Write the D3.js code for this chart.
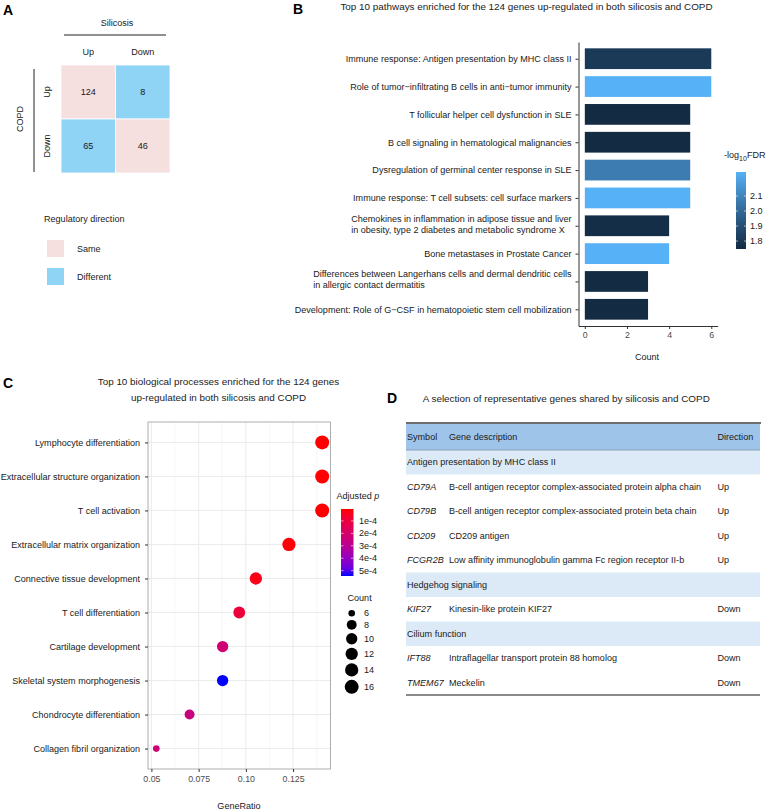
<!DOCTYPE html>
<html lang="en">
<head>
<meta charset="utf-8">
<style>
  body { margin: 0; background: white; }
  svg { font-family: 'Liberation Sans', Arial, sans-serif; background: white; }
  .tag { font-weight: bold; font-size: 14px; fill: black; }
  .lab { font-size: 9.05px; fill: #1a1a1a; }
  .title { font-size: 9.9px; fill: #1a1a1a; }
  .axis path, .axis line { stroke: #333; }
  .axis text { fill: #4d4d4d; font-size: 8.8px; font-family: 'Liberation Sans', Arial, sans-serif; }
  .ylab text { fill: #1a1a1a; font-size: 9.05px; }
</style>
</head>
<body>
<svg id="fig" width="770" height="811"></svg>
<script src="https://d3js.org/d3.v7.min.js"></script>
<script>
// ---------- panel A: overlap of regulated genes
const silicosisDirs = ["Up", "Down"]
const copdDirs = ["Up", "Down"]
const overlapCounts = [[124, 8], [65, 46]]   // rows = COPD, cols = silicosis
const legendItems = ["Same", "Different"]

// ---------- panel B: pathways
const pathwayNames = [
  "Immune response: Antigen presentation by MHC class II",
  "Role of tumor\u2212infiltrating B cells in anti\u2212tumor immunity",
  "T follicular helper cell dysfunction in SLE",
  "B cell signaling in hematological malignancies",
  "Dysregulation of germinal center response in SLE",
  "Immune response: T cell subsets: cell surface markers",
  "Chemokines in inflammation in adipose tissue and liver\nin obesity, type 2 diabetes and metabolic syndrome X",
  "Bone metastases in Prostate Cancer",
  "Differences between Langerhans cells and dermal dendritic cells\nin allergic contact dermatitis",
  "Development: Role of G\u2212CSF in hematopoietic stem cell mobilization"
]
const pathwayCounts = [6, 6, 5, 5, 5, 5, 4, 4, 3, 3]
const pathwayLogFDR = [1.81, 2.26, 1.75, 1.75, 2.07, 2.26, 1.76, 2.26, 1.75, 1.747]
const countTicks = [0, 2, 4, 6]
const fdrTicks = [1.8, 1.9, 2.0, 2.1]

// ---------- panel C: biological processes
const processNames = [
  "Lymphocyte differentiation",
  "Extracellular structure organization",
  "T cell activation",
  "Extracellular matrix organization",
  "Connective tissue development",
  "T cell differentiation",
  "Cartilage development",
  "Skeletal system morphogenesis",
  "Chondrocyte differentiation",
  "Collagen fibril organization"
]
const processGeneRatio = [0.1404, 0.1404, 0.1404, 0.1228, 0.1053, 0.0965, 0.0877, 0.0877, 0.0702, 0.0526]
const processCount = [16, 16, 16, 14, 12, 11, 10, 10, 8, 6]
const processPadj = [4e-6, 4e-6, 4e-6, 1e-5, 3e-5, 9e-5, 2.2e-4, 5.43e-4, 2.5e-4, 2.3e-4]
const ratioTicks = [0.05, 0.075, 0.1, 0.125]
const ratioTickLabels = ["0.05", "0.075", "0.10", "0.125"]
const padjTicks = [1e-4, 2e-4, 3e-4, 4e-4, 5e-4]
const padjTickLabels = ["1e-4", "2e-4", "3e-4", "4e-4", "5e-4"]
const countLegend = [6, 8, 10, 12, 14, 16]

// ---------- panel D: table
const tableHeader = ["Symbol", "Gene description", "Direction"]
const geneGroups = ["Antigen presentation by MHC class II", "Hedgehog signaling", "Cilium function"]
const geneSymbols = ["CD79A", "CD79B", "CD209", "FCGR2B", "KIF27", "IFT88", "TMEM67"]
const geneDescriptions = [
  "B-cell antigen receptor complex-associated protein alpha chain",
  "B-cell antigen receptor complex-associated protein beta chain",
  "CD209 antigen",
  "Low affinity immunoglobulin gamma Fc region receptor II-b",
  "Kinesin-like protein KIF27",
  "Intraflagellar transport protein 88 homolog",
  "Meckelin"
]
const geneDirections = ["Up", "Up", "Up", "Up", "Down", "Down", "Down"]
const geneGroupIndex = [0, 0, 0, 0, 1, 2, 2]

const svg = d3.select("#fig")
const samePink = "#f6dfdf", diffBlue = "#8fd4f5"

// ================= A =================
const gA = svg.append("g")
gA.append("text").attr("class", "tag").attr("x", 3).attr("y", 15).text("A")

const xA = d3.scaleBand().domain(silicosisDirs).range([61, 170])
const yA = d3.scaleBand().domain(copdDirs).range([65, 173])

const cells = []
copdDirs.forEach((r, i) => silicosisDirs.forEach((c, j) => cells.push({ r, c, v: overlapCounts[i][j] })))

gA.selectAll("rect.cell").data(cells).join("rect")
  .attr("class", "cell")
  .attr("x", d => xA(d.c)).attr("y", d => yA(d.r))
  .attr("width", xA.bandwidth()).attr("height", yA.bandwidth())
  .attr("fill", d => d.r === d.c ? samePink : diffBlue)
  .attr("stroke", "white").attr("stroke-width", 0.8)

gA.selectAll("text.num").data(cells).join("text")
  .attr("class", "lab num")
  .attr("x", d => xA(d.c) + xA.bandwidth() / 2)
  .attr("y", d => yA(d.r) + yA.bandwidth() / 2 + 3.2)
  .attr("text-anchor", "middle").text(d => d.v)

gA.selectAll("text.col").data(silicosisDirs).join("text")
  .attr("class", "lab col")
  .attr("x", d => xA(d) + xA.bandwidth() / 2).attr("y", 55)
  .attr("text-anchor", "middle").text(d => d)

gA.selectAll("text.row").data(copdDirs).join("text")
  .attr("class", "lab row")
  .attr("transform", d => `translate(50,${yA(d) + yA.bandwidth() / 2}) rotate(-90)`)
  .attr("text-anchor", "middle").text(d => d)

gA.append("text").attr("class", "lab").attr("x", 117).attr("y", 26).attr("text-anchor", "middle").text("Silicosis")
gA.append("line").attr("x1", 64).attr("x2", 166).attr("y1", 35).attr("y2", 35).attr("stroke", "#222").attr("stroke-width", 1)
gA.append("text").attr("class", "lab").attr("transform", "translate(23,119) rotate(-90)").attr("text-anchor", "middle").text("COPD")
gA.append("line").attr("x1", 34).attr("x2", 34).attr("y1", 69).attr("y2", 172).attr("stroke", "#222").attr("stroke-width", 1)

gA.append("text").attr("class", "lab").attr("x", 44).attr("y", 222).text("Regulatory direction")
const legA = gA.selectAll("g.leg").data(legendItems).join("g")
  .attr("transform", (d, i) => `translate(47,${240 + i * 28})`)
legA.append("rect").attr("width", 17).attr("height", 17).attr("fill", (d, i) => i === 0 ? samePink : diffBlue)
legA.append("text").attr("class", "lab").attr("x", 30).attr("y", 12).text(d => d)

// ================= B =================
const gB = svg.append("g")
gB.append("text").attr("class", "tag").attr("x", 293).attr("y", 14).text("B")
gB.append("text").attr("class", "title").attr("x", 526.5).attr("y", 10).attr("text-anchor", "middle")
  .text("Top 10 pathways enriched for the 124 genes up-regulated in both silicosis and COPD")

const xB = d3.scaleLinear().domain([-0.3, 6.3]).range([578.5, 717.6])
const yB = d3.scalePoint().domain(pathwayNames).range([42, 326]).padding(0.6)
const barH = yB.step() * 0.745
const fdrExtent = d3.extent(pathwayLogFDR)
const colB = d3.scaleLinear().domain(fdrExtent).range(["#132B43", "#56B1F7"]).interpolate(d3.interpolateLab)

gB.selectAll("rect.bar").data(pathwayNames).join("rect")
  .attr("class", "bar")
  .attr("x", xB(0)).attr("y", d => yB(d) - barH / 2)
  .attr("width", (d, i) => xB(pathwayCounts[i]) - xB(0)).attr("height", barH)
  .attr("fill", (d, i) => colB(pathwayLogFDR[i]))

const axBx = gB.append("g").attr("class", "axis").attr("transform", "translate(0,326)")
  .call(d3.axisBottom(xB).tickValues(countTicks).tickFormat(d3.format("d")).tickSize(3).tickPadding(3).tickSizeOuter(0))
const axBy = gB.append("g").attr("class", "axis ylab").attr("transform", "translate(578.5,0)")
  .call(d3.axisLeft(yB).tickSize(3).tickPadding(4).tickSizeOuter(0))

// multi-line labels: lines left-justified inside a right-aligned block
axBy.selectAll(".tick text").each(function (d) {
  const t = d3.select(this)
  const lines = d.split("\n")
  if (lines.length < 2) return
  t.text(null)
  const spans = lines.map((ln, k) => t.append("tspan").attr("x", -7).attr("dy", k === 0 ? "-0.5em" : "1.22em").text(ln))
  const w = d3.max(spans, s => s.node().getComputedTextLength())
  t.attr("text-anchor", "start").attr("dy", null)
  spans.forEach(s => s.attr("x", -7 - w))
})

gB.append("text").attr("class", "lab").attr("x", 647).attr("y", 360).attr("text-anchor", "middle").text("Count")

// colour bar
const cbB = { x: 736, y0: 172, y1: 249, w: 10 }
const yCbB = d3.scaleLinear().domain(fdrExtent).range([cbB.y1, cbB.y0])
const defs = svg.append("defs")
const gradB = defs.append("linearGradient").attr("id", "gradB").attr("x1", 0).attr("x2", 0).attr("y1", 1).attr("y2", 0)
d3.range(0, 1.0001, 0.1).forEach(t => gradB.append("stop").attr("offset", t).attr("stop-color", colB(fdrExtent[0] + t * (fdrExtent[1] - fdrExtent[0]))))
gB.append("rect").attr("x", cbB.x).attr("y", cbB.y0).attr("width", cbB.w).attr("height", cbB.y1 - cbB.y0).attr("fill", "url(#gradB)")
fdrTicks.forEach(v => {
  gB.append("line").attr("x1", cbB.x).attr("x2", cbB.x + 2).attr("y1", yCbB(v)).attr("y2", yCbB(v)).attr("stroke", "white").attr("stroke-width", 0.6)
  gB.append("line").attr("x1", cbB.x + cbB.w - 2).attr("x2", cbB.x + cbB.w).attr("y1", yCbB(v)).attr("y2", yCbB(v)).attr("stroke", "white").attr("stroke-width", 0.6)
})
gB.selectAll("text.cbl").data(fdrTicks).join("text").attr("class", "lab cbl")
  .attr("x", 750).attr("y", d => yCbB(d) + 3).text(d => d.toFixed(1))
const tB = gB.append("text").attr("class", "lab").attr("x", 724).attr("y", 158)
tB.append("tspan").text("-log")
tB.append("tspan").attr("dy", 2.5).attr("font-size", "7px").text("10")
tB.append("tspan").attr("dy", -2.5).text("FDR")

// ================= C =================
const gC = svg.append("g")
gC.append("text").attr("class", "tag").attr("x", 3).attr("y", 388).text("C")
gC.append("text").attr("class", "title").attr("x", 218.5).attr("y", 384.5).attr("text-anchor", "middle")
  .text("Top 10 biological processes enriched for the 124 genes")
gC.append("text").attr("class", "title").attr("x", 218.5).attr("y", 400.5).attr("text-anchor", "middle")
  .text("up-regulated in both silicosis and COPD")

const pC = { x0: 148, x1: 330.5, y0: 422, y1: 769 }
const xC = d3.scaleLinear().domain([0.0482, 0.1448]).range([pC.x0, pC.x1])
const yC = d3.scalePoint().domain(processNames).range([pC.y0, pC.y1]).padding(0.6)
const padjExtent = d3.extent(processPadj)
const colC = d3.scaleLinear().domain(padjExtent).range(["red", "blue"]).interpolate(d3.interpolateLab)
const cExtent = d3.extent(countLegend)
const rC = c => 3.3 + 3.7 * Math.sqrt((c - cExtent[0]) / (cExtent[1] - cExtent[0]))

// grid
const minorTicks = d3.range(0, 8).map(i => 0.05 + 0.0125 * i).filter((v, i) => i % 2 === 1)
gC.selectAll("line.minor").data(minorTicks).join("line").attr("class", "minor")
  .attr("x1", d => xC(d)).attr("x2", d => xC(d)).attr("y1", pC.y0).attr("y2", pC.y1)
  .attr("stroke", "#f2f2f2").attr("stroke-width", 0.6)
gC.selectAll("line.gx").data(ratioTicks).join("line").attr("class", "gx")
  .attr("x1", d => xC(d)).attr("x2", d => xC(d)).attr("y1", pC.y0).attr("y2", pC.y1)
  .attr("stroke", "#e6e6e6").attr("stroke-width", 0.8)
gC.selectAll("line.gy").data(processNames).join("line").attr("class", "gy")
  .attr("x1", pC.x0).attr("x2", pC.x1).attr("y1", d => yC(d)).attr("y2", d => yC(d))
  .attr("stroke", "#e6e6e6").attr("stroke-width", 0.8)

gC.selectAll("circle.pt").data(processNames).join("circle").attr("class", "pt")
  .attr("cx", (d, i) => xC(processGeneRatio[i])).attr("cy", d => yC(d))
  .attr("r", (d, i) => rC(processCount[i]))
  .attr("fill", (d, i) => colC(processPadj[i]))

gC.append("rect").attr("x", pC.x0).attr("y", pC.y0).attr("width", pC.x1 - pC.x0).attr("height", pC.y1 - pC.y0)
  .attr("fill", "none").attr("stroke", "#9a9a9a").attr("stroke-width", 0.8)

const axCx = gC.append("g").attr("class", "axis").attr("transform", `translate(0,${pC.y1})`)
  .call(d3.axisBottom(xC).tickValues(ratioTicks).tickFormat((d, i) => ratioTickLabels[i]).tickSize(3).tickPadding(4).tickSizeOuter(0))
const axCy = gC.append("g").attr("class", "axis ylab").attr("transform", `translate(${pC.x0},0)`)
  .call(d3.axisLeft(yC).tickSize(3).tickPadding(5).tickSizeOuter(0))
axCx.select(".domain").remove()
axCy.select(".domain").remove()
gC.selectAll(".axis line").attr("stroke", "#555")

gC.append("text").attr("class", "lab").attr("x", 239).attr("y", 809).attr("text-anchor", "middle").text("GeneRatio")

// colour legend
const cbC = { x: 341, y0: 509, y1: 576, w: 12.5 }
const yCbC = d3.scaleLinear().domain(padjExtent).range([cbC.y0, cbC.y1])
const gradC = defs.append("linearGradient").attr("id", "gradC").attr("x1", 0).attr("x2", 0).attr("y1", 0).attr("y2", 1)
d3.range(0, 1.0001, 0.1).forEach(t => gradC.append("stop").attr("offset", t).attr("stop-color", colC(padjExtent[0] + t * (padjExtent[1] - padjExtent[0]))))
gC.append("rect").attr("x", cbC.x).attr("y", cbC.y0).attr("width", cbC.w).attr("height", cbC.y1 - cbC.y0).attr("fill", "url(#gradC)")
padjTicks.forEach(v => {
  gC.append("line").attr("x1", cbC.x).attr("x2", cbC.x + 2.5).attr("y1", yCbC(v)).attr("y2", yCbC(v)).attr("stroke", "white").attr("stroke-width", 0.6)
  gC.append("line").attr("x1", cbC.x + cbC.w - 2.5).attr("x2", cbC.x + cbC.w).attr("y1", yCbC(v)).attr("y2", yCbC(v)).attr("stroke", "white").attr("stroke-width", 0.6)
})
gC.selectAll("text.cbl").data(padjTicks).join("text").attr("class", "lab cbl")
  .attr("x", 359).attr("y", (d, i) => yCbC(d) + 3).text((d, i) => padjTickLabels[i])
const tC = gC.append("text").attr("class", "lab").attr("x", 336.5).attr("y", 499)
tC.append("tspan").text("Adjusted ")
tC.append("tspan").attr("font-style", "italic").text("p")

// size legend
gC.append("text").attr("class", "lab").attr("x", 347.5).attr("y", 601).text("Count")
let yy = 613.3, prevH = null
countLegend.forEach(c => {
  const r = rC(c), h = 2 * r + 3.3
  if (prevH !== null) yy += (prevH + h) / 2
  prevH = h
  gC.append("circle").attr("cx", 351.7).attr("cy", yy).attr("r", r).attr("fill", "black")
  gC.append("text").attr("class", "lab").attr("x", 364).attr("y", yy + 3).text(c)
})

// ================= D =================
const gD = svg.append("g")
gD.append("text").attr("class", "tag").attr("x", 387).attr("y", 403).text("D")
gD.append("text").attr("class", "title").attr("x", 422.7).attr("y", 401.5)
  .text("A selection of representative genes shared by silicosis and COPD")

const rows = []
geneSymbols.forEach((s, i) => {
  if (i === 0 || geneGroupIndex[i] !== geneGroupIndex[i - 1]) rows.push({ group: geneGroups[geneGroupIndex[i]] })
  rows.push({ sym: s, desc: geneDescriptions[i], dir: geneDirections[i] })
})
const tX = { x0: 406, x1: 760, sym: 407, desc: 449, dir: 717.5 }
const yD = d3.scaleBand().domain(d3.range(rows.length)).range([450, 695])

gD.append("rect").attr("x", tX.x0).attr("y", 423).attr("width", tX.x1 - tX.x0).attr("height", 27).attr("fill", "#9fc4e9")
gD.selectAll("text.hd").data(tableHeader).join("text").attr("class", "lab hd")
  .attr("x", (d, i) => [tX.sym, tX.desc, tX.dir][i]).attr("y", 440).text(d => d)

gD.selectAll("rect.grp").data(rows.map((r, i) => ({ r, i })).filter(d => d.r.group)).join("rect").attr("class", "grp")
  .attr("x", tX.x0).attr("y", d => yD(d.i)).attr("width", tX.x1 - tX.x0).attr("height", yD.bandwidth())
  .attr("fill", "#dce9f6")

rows.forEach((r, i) => {
  const yb = yD(i) + yD.bandwidth() / 2 + 3.2
  if (r.group) {
    gD.append("text").attr("class", "lab").attr("x", tX.sym).attr("y", yb).text(r.group)
  } else {
    gD.append("text").attr("class", "lab").attr("x", tX.sym).attr("y", yb).attr("font-style", "italic").text(r.sym)
    gD.append("text").attr("class", "lab").attr("x", tX.desc).attr("y", yb).text(r.desc)
    gD.append("text").attr("class", "lab").attr("x", tX.dir).attr("y", yb).text(r.dir)
  }
})

gD.append("line").attr("x1", tX.x0).attr("x2", tX.x1 + 1).attr("y1", 423).attr("y2", 423).attr("stroke", "#6e6e6e").attr("stroke-width", 1.8)
gD.append("line").attr("x1", tX.x0).attr("x2", tX.x1).attr("y1", 450).attr("y2", 450).attr("stroke", "#7d95ad").attr("stroke-width", 0.8)
gD.append("line").attr("x1", tX.x0).attr("x2", tX.x1).attr("y1", 695).attr("y2", 695).attr("stroke", "#8a8a8a").attr("stroke-width", 1.8)
</script>
</body>
</html>
